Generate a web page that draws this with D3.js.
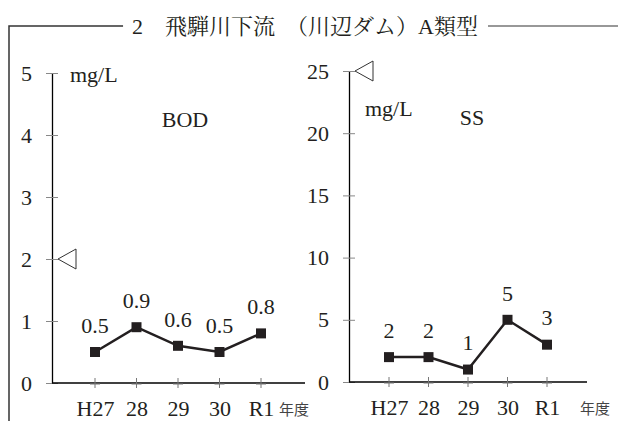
<!DOCTYPE html>
<html><head><meta charset="utf-8">
<script src="https://cdn.jsdelivr.net/npm/d3@7"></script>
<style>html,body{margin:0;padding:0;background:#fff;}</style>
</head><body>
<svg id="c" width="618" height="421"></svg>
<script>
const years = ["H27","28","29","30","R1"];
const bodValues = [0.5, 0.9, 0.6, 0.5, 0.8];
const ssValues = [2, 2, 1, 5, 3];
const bodTicks = [0,1,2,3,4,5];
const ssTicks = [0,5,10,15,20,25];
const bodStandard = 2;
const ssStandard = 25;
const titleText = "2\u3000飛騨川下流\u3000（川辺ダム）A類型";
const unitText = "mg/L";
const yearUnit = "年度";

const SERIF = '"Liberation Serif", "Noto Serif CJK JP", serif';
const CJK = '"Noto Sans CJK JP", sans-serif';
const svg = d3.select("#c");
const ink = "#231f20";

// title and frame
const title = svg.append("text").attr("x",305).attr("y",26).attr("dy","0.35em")
  .attr("text-anchor","middle").attr("font-family",SERIF).attr("font-size",22).attr("fill",ink).text(titleText);
const tb = title.node().getBBox();
svg.append("path").attr("d",`M9,421V26H${tb.x-9}`).attr("fill","none").attr("stroke","#333").attr("stroke-width",1.5);
svg.append("line").attr("x1",tb.x+tb.width+10).attr("x2",618).attr("y1",26).attr("y2",26).attr("stroke","#333").attr("stroke-width",1.2);

function panel(cfg){
  const g = svg.append("g");
  const y = d3.scaleLinear().domain([0, cfg.ticks[cfg.ticks.length-1]]).range([cfg.y0, cfg.y1]);
  const x = d3.scalePoint().domain(years).range([cfg.xa, cfg.xb]);
  // y axis
  const ya = g.append("g").attr("transform",`translate(${cfg.ax},0)`)
    .call(d3.axisLeft(y).tickValues(cfg.ticks).tickFormat(d3.format("d")).tickSize(6).tickSizeOuter(0).tickPadding(14));
  ya.attr("font-family",SERIF).attr("font-size",22);
  ya.select(".domain").attr("stroke","#000").attr("stroke-width",1.3);
  ya.selectAll(".tick line").attr("x1",-6).attr("x2",6).attr("stroke","#888");
  ya.selectAll(".tick text").attr("fill",ink).attr("font-family",SERIF);
  // x axis line
  g.append("line").attr("x1",cfg.ax).attr("x2",cfg.xend).attr("y1",y(0)).attr("y2",y(0)).attr("stroke","#000").attr("stroke-width",1.3);
  const xa = g.append("g").attr("transform",`translate(0,${y(0)})`)
    .call(d3.axisBottom(x).tickSize(0).tickPadding(17));
  xa.attr("font-family",SERIF).attr("font-size",22);
  xa.select(".domain").remove();
  xa.selectAll(".tick text").attr("fill",ink).attr("font-family",SERIF);
  // plus ticks
  years.forEach(d=>{
    g.append("path").attr("d",`M${x(d)},${y(0)-5}V${y(0)+5}M${x(d)-5},${y(0)+1}H${x(d)+5}`)
      .attr("stroke","#777").attr("stroke-width",1);
  });
  g.append("text").attr("x",cfg.unitYearX).attr("y",y(0)+27).attr("dy","0.35em").attr("text-anchor","middle")
    .attr("font-family",CJK).attr("font-size",15).attr("fill","#444").text(yearUnit);
  // standard triangle
  const ty = y(cfg.std), tx = cfg.ax + 6;
  g.append("path").attr("d",`M${tx},${ty}L${tx+18},${ty-10}V${ty+10}Z`).attr("fill","#fff").attr("stroke","#333").attr("stroke-width",1);
  // line
  const line = d3.line().x((d,i)=>x(years[i])).y(d=>y(d));
  g.append("path").datum(cfg.values).attr("d",line).attr("fill","none").attr("stroke",ink).attr("stroke-width",2.5);
  g.selectAll("rect.m").data(cfg.values).join("rect").attr("class","m")
    .attr("x",(d,i)=>x(years[i])-5).attr("y",d=>y(d)-5).attr("width",10).attr("height",10).attr("fill",ink);
  g.selectAll("text.v").data(cfg.values).join("text").attr("class","v")
    .attr("x",(d,i)=>x(years[i])).attr("y",d=>y(d)-27).attr("dy","0.35em").attr("text-anchor","middle")
    .attr("font-family",SERIF).attr("font-size",22).attr("fill",ink).text(d=>d);
  // labels
  g.append("text").attr("x",cfg.unitX).attr("y",cfg.unitY).attr("dy","0.35em")
    .attr("font-family",SERIF).attr("font-size",22).attr("fill",ink).text(unitText);
  g.append("text").attr("x",cfg.nameX).attr("y",cfg.nameY).attr("dy","0.35em").attr("text-anchor","middle")
    .attr("font-family",SERIF).attr("font-size",22).attr("fill",ink).text(cfg.name);
}

panel({values:bodValues, ticks:bodTicks, std:bodStandard, ax:52, y0:383, y1:73, xa:95, xb:261, xend:305,
  unitYearX:294, unitX:70, unitY:74, name:"BOD", nameX:185, nameY:119});
panel({values:ssValues, ticks:ssTicks, std:ssStandard, ax:349, y0:382, y1:71, xa:389, xb:547, xend:587,
  unitYearX:595, unitX:365, unitY:108, name:"SS", nameX:472, nameY:117});
</script></body></html>
